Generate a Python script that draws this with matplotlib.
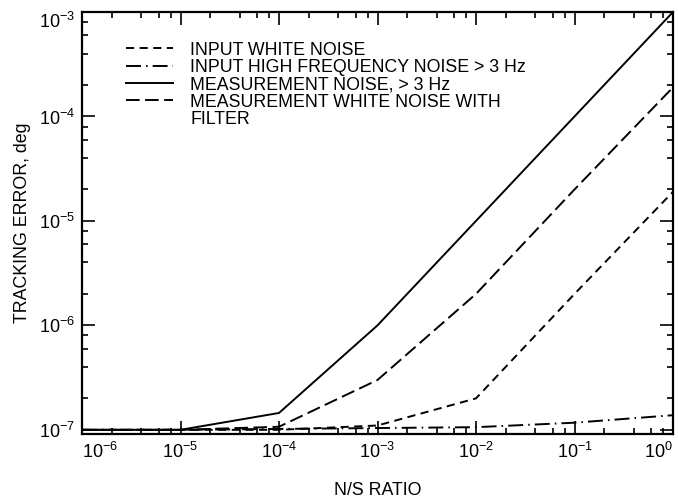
import matplotlib
matplotlib.use("Agg")
import matplotlib.pyplot as plt
from matplotlib.lines import Line2D

plt.rcParams["font.family"] = ["Liberation Sans", "DejaVu Sans"]
plt.rcParams["mathtext.fontset"] = "custom"
plt.rcParams["mathtext.rm"] = "Liberation Sans"
plt.rcParams["mathtext.it"] = "Liberation Sans"
plt.rcParams["mathtext.default"] = "regular"

# N/S ratio sample points (decades)
ns_ratio = [1e-6, 1e-5, 1e-4, 1e-3, 1e-2, 1e-1, 1e0]

# Tracking error, deg, for each noise source
input_white = [1.0e-7, 1.0e-7, 1.0e-7, 1.1e-7, 2.0e-7, 2.0e-6, 1.9e-5]
input_high_freq = [1.0e-7, 1.0e-7, 1.02e-7, 1.04e-7, 1.06e-7, 1.17e-7, 1.38e-7]
meas_noise = [1.0e-7, 1.0e-7, 1.45e-7, 1.0e-6, 1.0e-5, 1.0e-4, 1.0e-3]
meas_white_filter = [1.0e-7, 1.0e-7, 1.07e-7, 3.0e-7, 2.0e-6, 2.0e-5, 1.9e-4]

series_labels = [
    "INPUT WHITE NOISE",
    "INPUT HIGH FREQUENCY NOISE > 3 Hz",
    "MEASUREMENT NOISE, > 3 Hz",
    "MEASUREMENT WHITE NOISE WITH",
]
label_continuation = "FILTER"

x_ticks = [1e-6, 1e-5, 1e-4, 1e-3, 1e-2, 1e-1, 1e0]
x_tick_labels = [r"$10^{-6}$", r"$10^{-5}$", r"$10^{-4}$", r"$10^{-3}$",
                 r"$10^{-2}$", r"$10^{-1}$", r"$10^{0}$"]
y_ticks = [1e-7, 1e-6, 1e-5, 1e-4, 1e-3]
y_tick_labels = [r"$10^{-7}$", r"$10^{-6}$", r"$10^{-5}$", r"$10^{-4}$", r"$10^{-3}$"]

W, H = 678, 498
fig = plt.figure(figsize=(W / 100, H / 100), dpi=100)
ax = fig.add_axes([82 / W, 1 - 434 / H, (673 - 82) / W, (434 - 12) / H])

lw = 1.4
h1, = ax.plot(ns_ratio, input_white, color="black", lw=lw, dashes=(4.2, 2.8))
h2, = ax.plot(ns_ratio, input_high_freq, color="black", lw=lw,
              dashes=(7.7, 2.6, 0.8, 2.6))
h3, = ax.plot(ns_ratio, meas_noise, color="black", lw=lw, linestyle="-")
h4, = ax.plot(ns_ratio, meas_white_filter, color="black", lw=lw, dashes=(7.0, 2.8))

ax.set_xscale("log")
ax.set_yscale("log")
ax.set_xlim(1e-6, 1e0)
ax.set_ylim(10 ** -7.04, 1e-3)

ax.set_xticks(x_ticks)
ax.set_xticklabels(x_tick_labels)
ax.set_yticks(y_ticks)
ax.set_yticklabels(y_tick_labels)
ax.xaxis.set_minor_locator(matplotlib.ticker.LogLocator(base=10, subs=(2, 4, 6, 8)))
ax.yaxis.set_minor_locator(matplotlib.ticker.LogLocator(base=10, subs=(2, 4, 6, 8)))
ax.xaxis.set_minor_formatter(matplotlib.ticker.NullFormatter())
ax.yaxis.set_minor_formatter(matplotlib.ticker.NullFormatter())

ax.tick_params(which="both", direction="in", top=True, right=True,
               width=1.2, labelsize=13, colors="black")
ax.tick_params(which="major", length=9.5)
ax.tick_params(which="minor", length=4.5)
ax.tick_params(axis="x", pad=6)
ax.tick_params(axis="y", pad=5)

# keep the end labels inside the frame
xl = ax.get_xticklabels()
xl[0].set_horizontalalignment("left")
xl[-1].set_horizontalalignment("right")
yl = ax.get_yticklabels()
yl[-1].set_verticalalignment("top")

for s in ax.spines.values():
    s.set_linewidth(1.6)

ax.set_xlabel("N/S RATIO", fontsize=12.8, labelpad=14)
ax.set_ylabel("TRACKING ERROR, deg", fontsize=12.8, labelpad=6)

# the last label wraps onto a second row that carries no line sample
blank = Line2D([], [], linestyle="none")
leg = ax.legend([h1, h2, h3, h4, blank], series_labels + [label_continuation],
                loc="upper left", bbox_to_anchor=(0.075, 0.93), frameon=False,
                fontsize=12.8, handlelength=2.6, handletextpad=1.0,
                labelspacing=0.02, borderaxespad=0, borderpad=0)

fig.savefig("out.png", dpi=100)
